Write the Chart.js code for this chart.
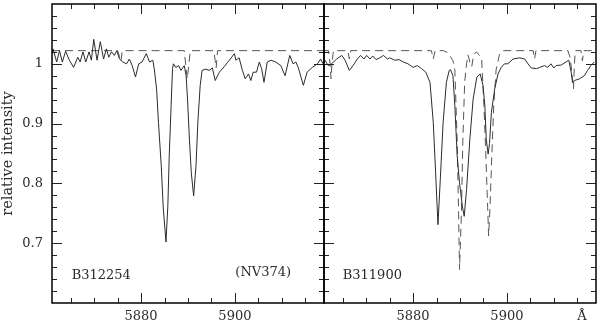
<!DOCTYPE html>
<html><head><meta charset="utf-8">
<script src="https://cdn.jsdelivr.net/npm/chart.js@4.4.1/dist/chart.umd.min.js"></script>
<style>html,body{margin:0;padding:0;background:#fff}canvas{display:block}</style>
</head><body>
<canvas id="c" width="600" height="324"></canvas>
<script>
// ---- tick labels ----
const xTickValues = [5880, 5900];
const yTickValues = [0.7, 0.8, 0.9, 1];
const unitLabel = 'Å';
const unitTickValue = 5916;

// ---- left panel (B312254): observed spectrum ----
const leftObsWave = [5861.0,5861.2,5862.0,5862.6,5863.2,5863.9,5864.7,5865.6,5866.5,5867.0,5867.6,5868.2,5868.9,5869.4,5869.9,5870.6,5871.3,5872.0,5872.6,5873.1,5873.7,5874.3,5874.8,5875.4,5876.1,5876.9,5877.5,5878.1,5878.8,5879.5,5880.2,5881.1,5881.8,5882.5,5882.8,5883.3,5883.7,5884.3,5884.7,5885.3,5885.7,5886.0,5886.4,5886.7,5886.9,5887.4,5888.0,5888.5,5889.2,5889.6,5889.9,5890.3,5890.7,5891.2,5891.7,5892.1,5892.6,5893.0,5893.8,5894.5,5895.2,5895.8,5896.7,5897.7,5898.4,5899.9,5900.2,5900.9,5901.6,5902.2,5902.9,5903.4,5903.9,5904.6,5905.2,5905.7,5906.2,5906.9,5907.7,5908.7,5909.8,5910.7,5911.7,5912.4,5913.0,5913.5,5914.6,5915.4,5916.5,5917.6,5918.3,5918.8,5919.0];
const leftObsFlux = [1.020,1.025,1.003,1.022,1.003,1.021,1.006,0.994,1.011,1.003,1.020,1.003,1.020,1.006,1.041,1.006,1.037,1.008,1.025,1.011,1.020,1.014,1.022,1.008,1.003,1.000,1.008,0.997,0.978,1.000,1.003,1.017,1.003,1.006,0.992,0.958,0.902,0.829,0.762,0.702,0.762,0.846,0.930,0.992,1.000,0.994,0.997,0.989,0.997,0.980,0.941,0.874,0.818,0.779,0.829,0.902,0.964,0.989,0.991,0.989,0.993,0.972,0.986,0.995,1.002,1.017,1.006,1.010,0.989,0.975,0.983,0.972,0.986,0.986,1.003,0.992,0.969,1.003,1.006,1.003,0.997,0.980,1.014,1.000,1.003,0.994,0.964,0.986,0.994,1.000,1.008,1.000,0.995];

// ---- left panel: comparison (dashed) ----
const leftModelWave = [5861.0,5875.0,5875.4,5875.7,5876.0,5889.2,5889.5,5889.85,5890.2,5890.5,5895.5,5895.8,5896.0,5896.3,5919.0];
const leftModelFlux = [1.022,1.022,1.012,1.004,1.022,1.022,1.000,0.975,1.000,1.022,1.022,1.005,0.993,1.022,1.022];

// ---- right panel (B311900): observed spectrum ----
const rightObsWave = [5861.2,5861.9,5862.6,5863.7,5864.8,5865.5,5866.4,5867.2,5868.1,5868.8,5869.5,5870.1,5870.8,5871.4,5872.1,5872.9,5873.7,5874.5,5875.0,5876.1,5877.0,5877.9,5878.9,5880.0,5880.9,5881.8,5882.7,5883.6,5884.3,5884.8,5885.3,5885.8,5886.4,5887.1,5887.7,5888.0,5888.5,5888.9,5889.4,5889.9,5890.5,5890.9,5891.4,5892.1,5892.8,5893.6,5894.3,5894.9,5895.3,5895.6,5896.0,5896.3,5896.7,5897.4,5898.1,5898.8,5899.5,5900.2,5901.3,5902.7,5903.8,5904.5,5905.2,5906.3,5907.0,5908.0,5908.7,5909.4,5910.0,5910.5,5911.6,5912.6,5913.2,5913.7,5914.0,5914.4,5915.5,5916.5,5917.2,5917.9,5918.6];
const rightObsFlux = [1.006,0.997,1.000,1.008,1.014,1.006,0.989,0.997,1.008,1.014,1.008,1.014,1.008,1.013,1.007,1.010,1.014,1.008,1.010,1.006,1.007,1.003,1.000,0.994,0.997,0.992,0.986,0.969,0.902,0.818,0.731,0.807,0.902,0.969,0.989,0.990,0.980,0.930,0.846,0.801,0.762,0.745,0.790,0.874,0.941,0.978,0.983,0.964,0.930,0.874,0.849,0.867,0.919,0.958,0.983,0.994,1.000,1.000,1.008,1.010,1.008,1.000,0.993,0.992,0.994,0.997,0.994,1.000,0.993,0.997,0.998,1.003,1.006,0.986,0.969,0.972,0.975,0.980,0.989,0.997,1.003];

// ---- right panel: comparison (dashed) ----
const rightModelWave = [5861.0,5862.0,5862.3,5862.5,5862.7,5863.0,5866.1,5866.4,5866.7,5883.9,5884.3,5884.7,5886.5,5887.5,5888.5,5888.9,5889.4,5889.7,5889.9,5890.3,5890.6,5891.0,5891.4,5891.7,5892.2,5892.5,5892.9,5893.5,5894.6,5895.1,5895.5,5895.9,5896.1,5896.4,5896.8,5897.2,5897.7,5898.4,5899.0,5905.6,5905.9,5906.2,5913.0,5913.5,5914.0,5914.2,5914.4,5914.6,5915.8,5916.1,5916.4,5919.0];
const rightModelFlux = [1.022,1.022,1.000,0.975,1.000,1.022,1.022,1.008,1.022,1.022,1.008,1.022,1.022,1.018,1.005,0.990,0.870,0.750,0.656,0.750,0.870,0.970,1.000,1.015,1.000,0.995,1.015,1.020,1.010,0.930,0.850,0.760,0.712,0.760,0.850,0.930,0.990,1.015,1.022,1.022,1.008,1.022,1.022,1.010,0.975,0.958,1.000,1.022,1.022,1.005,1.022,1.022];

const pts = (w, f) => w.map((x, i) => ({x: x, y: f[i]}));

const FONT = "'DejaVu Serif', 'Liberation Serif', serif";
const TXT = '#2a2a2a';

const framePlugin = {
  id: 'frame',
  afterDraw(chart, args, opts) {
    const ctx = chart.ctx, ys = chart.scales.y, ca = chart.chartArea;
    ctx.save();
    const seg = (a, b, c, d) => { ctx.beginPath(); ctx.moveTo(a, b); ctx.lineTo(c, d); ctx.stroke(); };
    ['x1', 'x2'].forEach(id => {
      const xs = chart.scales[id];
      const L = xs.left, R = xs.right, T = ca.top, B = ca.bottom;
      ctx.strokeStyle = '#222'; ctx.lineWidth = 1;
      for (let k = 0; k <= 25; k++) {
        const v = 0.6 + k * 0.02;
        const p = Math.round(ys.getPixelForValue(v)) + 0.5;
        if (p <= T + 1 || p >= B - 1) continue;
        const len = (k % 5 === 0) ? 10 : 5;
        seg(L, p, L + len, p); seg(R, p, R - len, p);
      }
      for (let w = 5860; w <= 5920; w += 5) {
        if (w <= xs.min || w >= xs.max) continue;
        const p = Math.round(xs.getPixelForValue(w)) + 0.5;
        const len = (w % 20 === 0) ? 10 : 5;
        seg(p, B, p, B - len); seg(p, T, p, T + len);
      }
      ctx.strokeStyle = '#000'; ctx.lineWidth = 1.5;
      ctx.strokeRect(L, T, R - L, B - T);
    });
    ctx.fillStyle = TXT;
    ctx.font = '13px ' + FONT;
    ctx.textBaseline = 'middle';
    (opts.notes || []).forEach(n => {
      ctx.textAlign = n.align || 'left';
      ctx.fillText(n.text, chart.scales[n.axis].getPixelForValue(n.x), ys.getPixelForValue(n.y));
    });
    ctx.restore();
  }
};

const noPadH = s => { s.height = 21; s.paddingLeft = 0; s.paddingRight = 0; };

const xScale = (tickVals, cb) => ({
  type: 'linear', position: 'bottom', stack: 'panels', stackWeight: 1,
  min: 5861, max: 5919,
  grid: {display: false, drawTicks: false}, border: {display: false},
  afterBuildTicks: s => { s.ticks = tickVals.map(v => ({value: v})); },
  afterFit: noPadH,
  ticks: {font: {family: FONT, size: 13}, color: TXT, padding: 6, maxRotation: 0, autoSkip: false, callback: cb}
});

new Chart(document.getElementById('c'), {
  type: 'line',
  data: {
    datasets: [
      {data: pts(leftObsWave, leftObsFlux), xAxisID: 'x1', borderColor: '#2b2b2b', borderWidth: 1},
      {data: pts(leftModelWave, leftModelFlux), xAxisID: 'x1', borderColor: '#555', borderWidth: 1, borderDash: [8, 5]},
      {data: pts(rightObsWave, rightObsFlux), xAxisID: 'x2', borderColor: '#2b2b2b', borderWidth: 1},
      {data: pts(rightModelWave, rightModelFlux), xAxisID: 'x2', borderColor: '#555', borderWidth: 1, borderDash: [8, 5]}
    ]
  },
  options: {
    responsive: false, animation: false, devicePixelRatio: 1,
    layout: {padding: {left: 0, right: 4, top: 4, bottom: 0}},
    elements: {point: {radius: 0}, line: {tension: 0, fill: false}},
    plugins: {
      legend: {display: false}, tooltip: {enabled: false},
      frame: {notes: [
        {text: 'B312254', axis: 'x1', x: 5865.2, y: 0.646},
        {text: '(NV374)', axis: 'x1', x: 5900.1, y: 0.651},
        {text: 'B311900', axis: 'x2', x: 5865.0, y: 0.646}
      ]}
    },
    scales: {
      x1: xScale(xTickValues, v => String(v)),
      x2: xScale(xTickValues.concat([unitTickValue]), v => v === unitTickValue ? unitLabel : String(v)),
      y: {
        type: 'linear', position: 'left', min: 0.6, max: 1.1,
        grid: {display: false, drawTicks: false}, border: {display: false},
        afterBuildTicks: s => { s.ticks = yTickValues.map(v => ({value: v})); },
        afterFit: s => { s.width = 52; s.paddingTop = 0; s.paddingBottom = 0; },
        ticks: {font: {family: FONT, size: 13}, color: TXT, padding: 9, callback: v => String(Math.round(v * 10) / 10)},
        title: {display: true, text: 'relative intensity', font: {family: FONT, size: 14.5}, color: TXT, padding: 0}
      }
    }
  },
  plugins: [framePlugin]
});
</script>
</body></html>
